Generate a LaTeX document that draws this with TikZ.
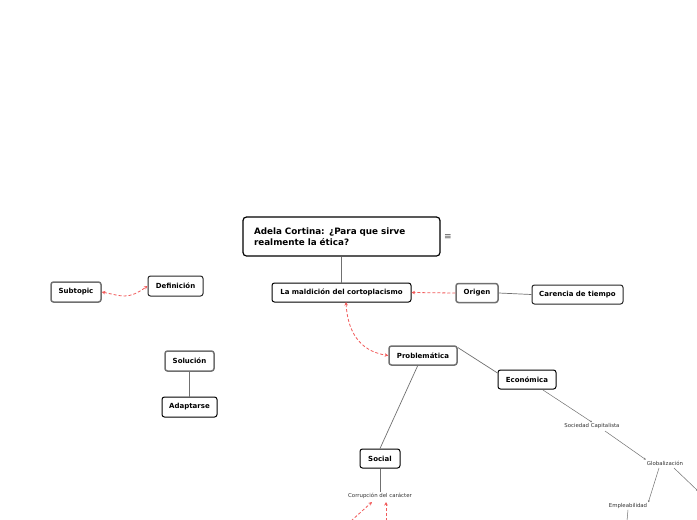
\documentclass[tikz,border=0pt]{standalone}
\usepackage{fontspec}
\setmainfont{DejaVu Sans}
\usetikzlibrary{arrows.meta}
\definecolor{dashred}{HTML}{F25A5A}
\definecolor{grayline}{HTML}{707070}
\tikzset{
  box/.style={draw=black, line width=1pt, rounded corners=2.5pt, fill=white, inner sep=0pt, font=\fontsize{7}{8}\selectfont\bfseries},
  graybox/.style={box, draw=grayline, line width=1.5pt},
  plain/.style={inner sep=1pt, font=\fontsize{5.4}{6}\selectfont, text=black!80},
  link/.style={draw=grayline, line width=0.7pt},
  thinlink/.style={draw=grayline, line width=0.5pt, -{Stealth[length=2pt,width=2pt]}},
  reddash/.style={draw=dashred, line width=0.8pt, dash pattern=on 3pt off 2pt, {Stealth[length=3.5pt,width=3.5pt]}-{Stealth[length=3.5pt,width=3.5pt]}},
  redone/.style={draw=dashred, line width=0.8pt, dash pattern=on 3pt off 2pt, -{Stealth[length=3.5pt,width=3.5pt]}}
}
\begin{document}
\begin{tikzpicture}[x=1pt,y=-1pt]
\useasboundingbox (0,0) rectangle (697,520);
\fill[white] (0,0) rectangle (697,520);

\node[box, line width=1.2pt, rounded corners=3.5pt, minimum width=197pt, minimum height=39pt, text width=175pt, align=left, font=\fontsize{8.8}{10.5}\selectfont\bfseries] (main) at (341.5,236.5) {Adela Cortina: ¿Para que sirve\\realmente la ética?};
\node[font=\fontsize{9}{10}\selectfont, text=black!70] (menu) at (448,237.5) {≡};

\node[box, minimum width=139pt, minimum height=19pt] (mal) at (341.5,292.5) {La maldición del cortoplacismo};
\node[graybox, minimum width=42pt, minimum height=19pt] (orig) at (477,293) {Origen};
\node[box, draw=black!85, minimum width=91pt, minimum height=19pt] (car) at (577.5,294.5) {Carencia de tiempo};

\node[graybox, minimum width=50pt, minimum height=20pt] (sub) at (76,292) {Subtopic};
\node[box, draw=black!85, minimum width=55pt, minimum height=20pt] (def) at (175.5,286) {Definición};

\node[graybox, minimum width=49pt, minimum height=20pt] (sol) at (189.5,361) {Solución};
\node[box, minimum width=55pt, minimum height=20pt] (ada) at (189.5,407) {Adaptarse};

\node[graybox, minimum width=68pt, minimum height=19pt] (prob) at (423,355.5) {Problemática};
\node[box, minimum width=58pt, minimum height=19pt] (eco) at (527,379.5) {Económica};
\node[box, minimum width=40pt, minimum height=19pt] (soc) at (380,458.5) {Social};

\node[plain] (cor) at (380,496) {Corrupción del carácter};
\node[plain] (socap) at (592,426) {Sociedad Capitalista};
\node[plain] (glob) at (665,463) {Globalización};
\node[plain] (emp) at (628,506) {Empleabilidad};

\coordinate (c1) at (351,521);
\coordinate (c2) at (386,521);
\coordinate (g2) at (698,491);
\coordinate (e2) at (627,521);

% connectors
\draw[link] (main.south -| mal.north) -- (mal.north);
\draw[link] (orig.east) -- (car.west);
\draw[link] (sol) -- (ada);
\draw[link] (prob.east) ++(0,8pt) coordinate (pe) -- (eco.west |- 0,373);
\draw[link] (418,365) -- (soc.north);
\draw[link] (soc.south) -- (cor.north);

\draw[thinlink] (543,390) -- (socap.north);
\draw[thinlink] (605,431) -- (glob.north west);
\draw[thinlink] (659,468) -- (emp.north east);
\draw[thinlink] (674,468) -- (g2);
\draw[link, line width=0.5pt] (emp.south) -- (e2);

% red dashed relations
\draw[redone] (orig.west) -- (mal.east);
\draw[reddash] (sub.east) .. controls (122,296) and (128,300) .. (def.west);
\draw[reddash] (346,302) .. controls (348,338) and (365,352) .. (prob.west);
\draw[redone] (c1) -- (372,502);
\draw[redone] (c2) -- (386,502);
\end{tikzpicture}
\end{document}
